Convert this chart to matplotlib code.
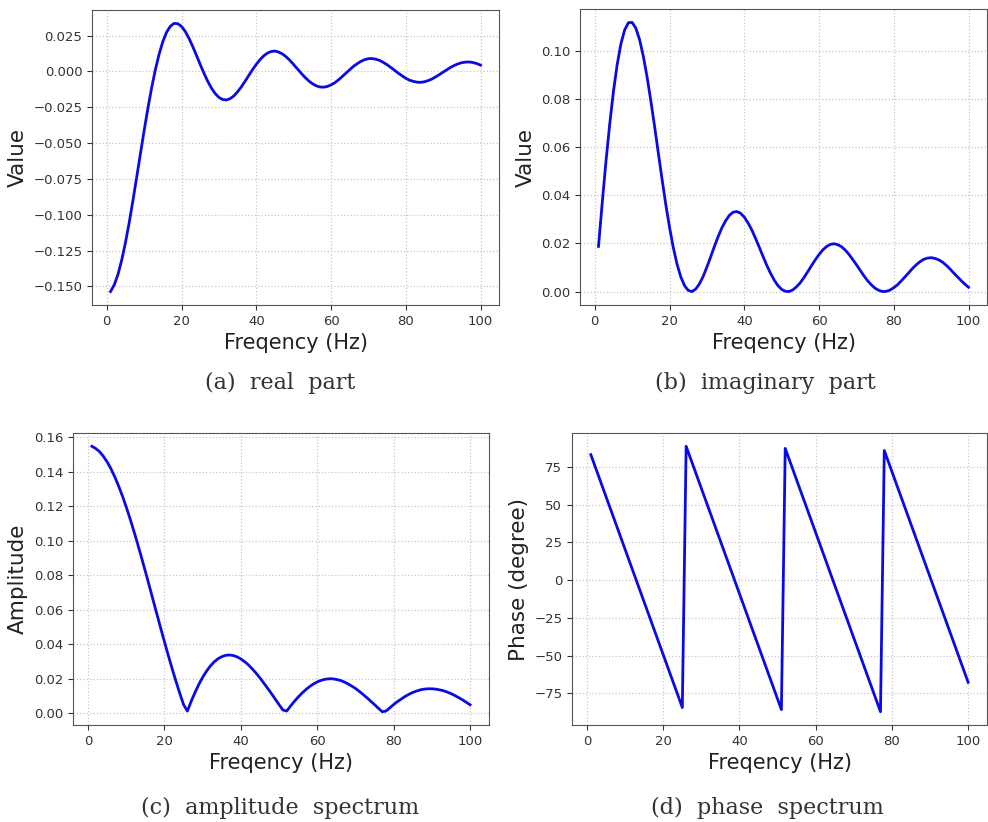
import numpy as np
import matplotlib.pyplot as plt

# frequency samples (Hz), one per Hz as in the original plot
freq = list(range(1, 101))

real_part = [-0.1536, -0.1489, -0.1416, -0.1316, -0.1194, -0.1055, -0.0901, -0.0739, -0.0575, -0.0413,
             -0.0258, -0.0115, 0.0012, 0.0120, 0.0208, 0.0273, 0.0315, 0.0335, 0.0333, 0.0314,
             0.0279, 0.0231, 0.0174, 0.0112, 0.0049, -0.0012, -0.0068, -0.0116, -0.0154, -0.0181,
             -0.0196, -0.0199, -0.0190, -0.0171, -0.0142, -0.0108, -0.0069, -0.0028, 0.0012, 0.0049,
             0.0082, 0.0109, 0.0128, 0.0139, 0.0142, 0.0135, 0.0122, 0.0102, 0.0077, 0.0048,
             0.0018, -0.0012, -0.0040, -0.0065, -0.0085, -0.0100, -0.0108, -0.0110, -0.0105, -0.0094,
             -0.0079, -0.0059, -0.0036, -0.0012, 0.0012, 0.0035, 0.0054, 0.0070, 0.0082, 0.0089,
             0.0090, 0.0085, 0.0077, 0.0063, 0.0047, 0.0028, 0.0008, -0.0012, -0.0030, -0.0048,
             -0.0061, -0.0069, -0.0075, -0.0076, -0.0072, -0.0064, -0.0053, -0.0038, -0.0022, -0.0005,
             0.0012, 0.0028, 0.0042, 0.0053, 0.0061, 0.0065, 0.0066, 0.0062, 0.0055, 0.0044]

imag_part = [0.0188, 0.0370, 0.0542, 0.0697, 0.0833, 0.0945, 0.1031, 0.1089, 0.1119, 0.1120,
             0.1096, 0.1048, 0.0979, 0.0893, 0.0794, 0.0688, 0.0577, 0.0468, 0.0363, 0.0268,
             0.0184, 0.0115, 0.0062, 0.0025, 0.0005, 0.0000, 0.0010, 0.0032, 0.0063, 0.0102,
             0.0144, 0.0187, 0.0228, 0.0265, 0.0294, 0.0317, 0.0330, 0.0333, 0.0326, 0.0310,
             0.0286, 0.0257, 0.0222, 0.0185, 0.0147, 0.0110, 0.0077, 0.0048, 0.0025, 0.0009,
             0.0001, 0.0000, 0.0007, 0.0020, 0.0037, 0.0059, 0.0083, 0.0108, 0.0132, 0.0154,
             0.0173, 0.0187, 0.0196, 0.0199, 0.0195, 0.0187, 0.0173, 0.0155, 0.0134, 0.0112,
             0.0089, 0.0066, 0.0045, 0.0028, 0.0014, 0.0005, 0.0000, 0.0001, 0.0006, 0.0016,
             0.0028, 0.0044, 0.0061, 0.0078, 0.0096, 0.0111, 0.0124, 0.0134, 0.0139, 0.0141,
             0.0138, 0.0132, 0.0123, 0.0110, 0.0095, 0.0078, 0.0062, 0.0046, 0.0031, 0.0018]

amplitude = [0.1547, 0.1534, 0.1516, 0.1489, 0.1456, 0.1416, 0.1369, 0.1316, 0.1258, 0.1194,
             0.1126, 0.1054, 0.0979, 0.0901, 0.0821, 0.0740, 0.0657, 0.0575, 0.0493, 0.0413,
             0.0334, 0.0258, 0.0185, 0.0115, 0.0049, 0.0012, 0.0069, 0.0120, 0.0167, 0.0208,
             0.0243, 0.0273, 0.0297, 0.0315, 0.0327, 0.0335, 0.0337, 0.0334, 0.0326, 0.0314,
             0.0298, 0.0279, 0.0256, 0.0231, 0.0204, 0.0174, 0.0144, 0.0113, 0.0081, 0.0049,
             0.0018, 0.0012, 0.0041, 0.0068, 0.0093, 0.0116, 0.0136, 0.0154, 0.0169, 0.0181,
             0.0190, 0.0196, 0.0199, 0.0199, 0.0195, 0.0190, 0.0181, 0.0170, 0.0157, 0.0143,
             0.0126, 0.0108, 0.0089, 0.0069, 0.0049, 0.0028, 0.0008, 0.0012, 0.0031, 0.0050,
             0.0067, 0.0082, 0.0097, 0.0109, 0.0120, 0.0128, 0.0135, 0.0139, 0.0141, 0.0141,
             0.0139, 0.0135, 0.0130, 0.0122, 0.0113, 0.0102, 0.0090, 0.0077, 0.0063, 0.0048]

# phase is a sawtooth, so its corners are enough
phase_freq = [1, 25, 26, 51, 52, 77, 78, 100]
phase_deg = [83.0, -84.4, 88.6, -85.8, 87.2, -87.2, 85.8, -67.7]

panels = [
    (freq, real_part, "Value", "(a)  real  part"),
    (freq, imag_part, "Value", "(b)  imaginary  part"),
    (freq, amplitude, "Amplitude", "(c)  amplitude  spectrum"),
    (phase_freq, phase_deg, "Phase (degree)", "(d)  phase  spectrum"),
]

# axes boxes in pixels: left, top, right, bottom
boxes = [(92, 10, 499, 305), (580, 9, 987, 305),
         (73, 433, 489, 725), (572, 433, 987, 725)]
caption_xy = [(280, 383), (765, 383), (280, 808), (767, 808)]

W, H = 988, 822
fig = plt.figure(figsize=(W / 100, H / 100), dpi=100)

for (x, y, ylab, cap), (l, t, r, b), (cx, cy) in zip(panels, boxes, caption_xy):
    ax = fig.add_axes([l / W, 1 - b / H, (r - l) / W, (b - t) / H])
    ax.plot(x, y, color="#0a0ae6", lw=2)
    ax.grid(True, linestyle=":", color="#c8c8c8", lw=0.9)
    ax.set_xticks([0, 20, 40, 60, 80, 100])
    ax.set_xlabel("Freqency (Hz)", fontsize=15, color="#222222")
    ax.set_ylabel(ylab, fontsize=15.5, color="#222222")
    ax.tick_params(labelsize=9.5, colors="#333333")
    for sp in ax.spines.values():
        sp.set_color("#555555")
    fig.text(cx / W, 1 - cy / H, cap, ha="center", va="center",
             fontsize=16, family="DejaVu Serif", color="#333333")

fig.savefig("out.png", dpi=100)
